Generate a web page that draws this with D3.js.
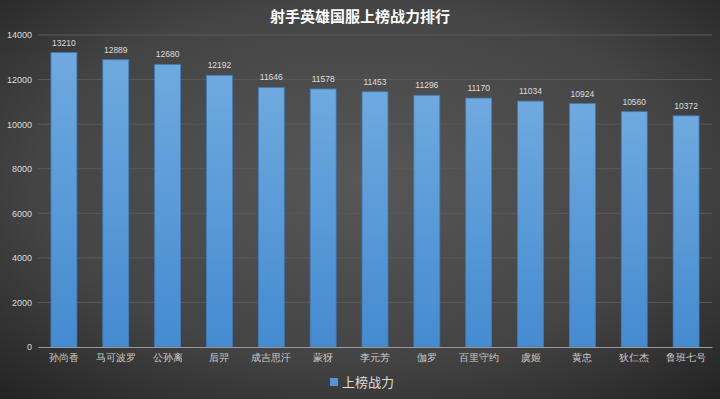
<!DOCTYPE html>
<html>
<head>
<meta charset="utf-8">
<script src="https://cdn.jsdelivr.net/npm/d3@7"></script>
<style>
  body { margin: 0; background: #333; }
  svg { display: block; font-family: "Noto Sans CJK SC", "DejaVu Sans", sans-serif; }
</style>
</head>
<body>
<div id="chart"></div>
<script>
// 射手英雄 上榜战力
var heroes = ["孙尚香", "马可波罗", "公孙离", "后羿", "成吉思汗", "蒙犽", "李元芳", "伽罗", "百里守约", "虞姬", "黄忠", "狄仁杰", "鲁班七号"];
var power = [13210, 12889, 12680, 12192, 11646, 11578, 11453, 11296, 11170, 11034, 10924, 10560, 10372];
var yTicks = [0, 2000, 4000, 6000, 8000, 10000, 12000, 14000];
var seriesName = "上榜战力";
var title = "射手英雄国服上榜战力排行";

var W = 720, H = 399;
var margin = {top: 35, right: 8, bottom: 52, left: 38};

var svg = d3.select("#chart").append("svg")
    .attr("width", W)
    .attr("height", H);

var defs = svg.append("defs");
var bg = defs.append("radialGradient").attr("id", "bg")
    .attr("cx", "50%").attr("cy", "45%").attr("r", "75%");
bg.append("stop").attr("offset", "0%").attr("stop-color", "#575757");
bg.append("stop").attr("offset", "60%").attr("stop-color", "#444");
bg.append("stop").attr("offset", "100%").attr("stop-color", "#222");

var barGrad = defs.append("linearGradient").attr("id", "barGrad")
    .attr("x1", 0).attr("y1", 0).attr("x2", 0).attr("y2", 1);
barGrad.append("stop").attr("offset", "0%").attr("stop-color", "#6fa9df");
barGrad.append("stop").attr("offset", "100%").attr("stop-color", "#448bd0");

svg.append("rect").attr("width", W).attr("height", H).attr("fill", "url(#bg)");

svg.append("text")
    .attr("x", W / 2).attr("y", 22)
    .attr("text-anchor", "middle")
    .attr("fill", "#fff")
    .style("font-size", "15px")
    .style("font-weight", "bold")
    .text(title);

var x = d3.scaleBand()
    .domain(heroes)
    .range([margin.left, W - margin.right])
    .paddingInner(0.5)
    .paddingOuter(0.25);

var y = d3.scaleLinear()
    .domain([0, 14000])
    .range([H - margin.bottom, margin.top]);

// 网格线
svg.append("g")
    .selectAll("line")
    .data(yTicks.slice(1))
    .enter().append("line")
    .attr("x1", margin.left).attr("x2", W - margin.right)
    .attr("y1", d => y(d)).attr("y2", d => y(d))
    .attr("stroke", "#5a5a5a")
    .attr("stroke-width", 1);

var yAxis = svg.append("g")
    .attr("transform", "translate(" + margin.left + ",0)")
    .call(d3.axisLeft(y).tickValues(yTicks).tickFormat(d3.format("d")).tickSize(0).tickPadding(6));
yAxis.select(".domain").remove();
yAxis.selectAll("text").attr("fill", "#ddd").style("font-size", "9px").style("font-family", "Arial, 'Liberation Sans', sans-serif");

svg.append("g")
    .selectAll("rect")
    .data(power)
    .enter().append("rect")
    .attr("x", (d, i) => x(heroes[i]))
    .attr("y", d => y(d))
    .attr("width", x.bandwidth())
    .attr("height", d => y(0) - y(d))
    .attr("fill", "url(#barGrad)")
    .attr("stroke", "#3f7cb8")
    .attr("stroke-width", 0.8);

svg.append("g")
    .selectAll("text")
    .data(power)
    .enter().append("text")
    .attr("x", (d, i) => x(heroes[i]) + x.bandwidth() / 2)
    .attr("y", d => y(d) - 7)
    .attr("text-anchor", "middle")
    .attr("fill", "#ddd")
    .style("font-size", "8.5px")
    .style("font-family", "Arial, 'Liberation Sans', sans-serif")
    .text(d => d);

var xAxis = svg.append("g")
    .attr("transform", "translate(0," + y(0) + ")")
    .call(d3.axisBottom(x).tickSize(0).tickPadding(7));
xAxis.select(".domain").attr("stroke", "#999").attr("stroke-width", 1.2);
xAxis.selectAll("text").attr("fill", "#ccc").style("font-size", "10px");

// 图例
var legend = svg.append("g").attr("transform", "translate(330,378)");
legend.append("rect").attr("width", 8).attr("height", 8).attr("fill", "#4f95d8");
legend.append("text").attr("x", 12).attr("y", 8.5)
    .attr("fill", "#ddd")
    .style("font-size", "13px")
    .text(seriesName);
</script>
</body>
</html>
